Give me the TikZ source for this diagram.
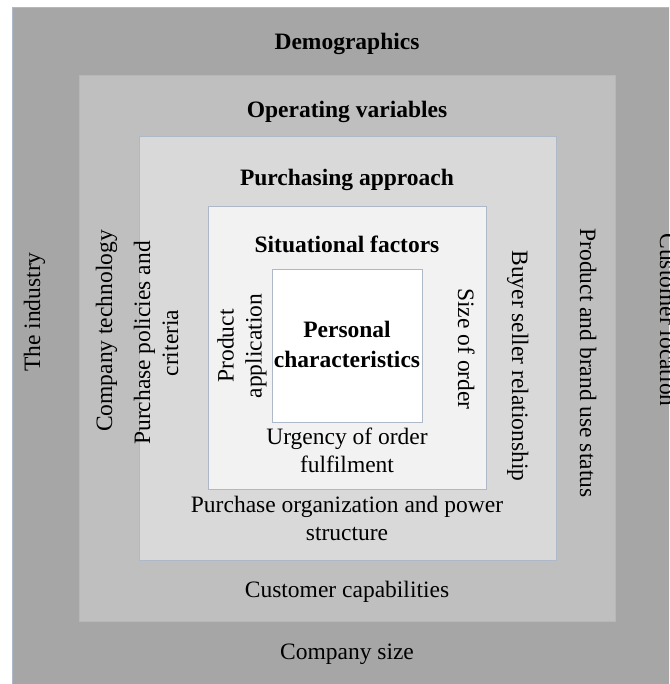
\documentclass[tikz,border=0pt]{standalone}
\usepackage{fontspec}
\setmainfont{Liberation Serif}
\definecolor{ringA}{HTML}{A6A6A6}
\definecolor{ringB}{HTML}{BFBFBF}
\definecolor{ringC}{HTML}{D9D9D9}
\definecolor{ringD}{HTML}{F2F2F2}
\definecolor{ringE}{HTML}{FFFFFF}
\definecolor{edge}{HTML}{ADB9C8}
\tikzset{
  lbl/.style={font=\fontsize{23.5}{28}\selectfont, inner sep=0pt, align=center},
  head/.style={lbl, font=\fontsize{23.5}{30}\selectfont\bfseries},
  up/.style={rotate=90},
  down/.style={rotate=-90}
}
\begin{document}
\begin{tikzpicture}[x=1pt, y=-1pt]
    \fill[white] (0, 0) rectangle (669, 684);
    \clip (0, 0) rectangle (669, 684);
    % nested rings, outside in
    \foreach \l/\t/\r/\b/\c in {12/8/740/740/ringA, 79/76/615/621/ringB,
                                139/137/556/560/ringC, 208/207/486/489/ringD,
                                272/269/422/422/ringE}
       {\filldraw[fill=\c, draw=edge, line width=1pt] (\l, \t) rectangle (\r, \b);}

    % titles
    \node[head, anchor=base] (demo) at (347, 50) {Demographics};
    \node[head, anchor=base] (oper) at (347, 118) {Operating variables};
    \node[head, anchor=base] (purch) at (347, 186) {Purchasing approach};
    \node[head, anchor=base] (situ) at (347, 253) {Situational factors};
    \node[head] (pers) at (347, 344) {Personal\\characteristics};

    % demographics ring
    \node[lbl, up, anchor=base] (indus) at (40, 312) {The industry};
    \node[lbl, down, anchor=base] (custloc) at (660, 320) {Customer location};
    \node[lbl, anchor=base] (compsize) at (347, 659) {Company size};

    % operating variables ring
    \node[lbl, up, anchor=base] (comptech) at (112, 331) {Company technology};
    \node[lbl, down, anchor=base] (brand) at (580, 363) {Product and brand use status};
    \node[lbl, anchor=base] (custcap) at (347, 597) {Customer capabilities};

    % purchasing approach ring
    \node[lbl, up] (policies) at (156, 343) {Purchase policies and\\criteria};
    \node[lbl, down, anchor=base] (buyer) at (512, 366) {Buyer seller relationship};
    \node[lbl] (porg) at (347, 518) {Purchase organization and power\\structure};

    % situational factors ring
    \node[lbl, up] (prodapp) at (242, 346) {Product\\application};
    \node[lbl, down, anchor=base] (size) at (458, 349) {Size of order};
    \node[lbl] (urgency) at (347, 450) {Urgency of order\\fulfilment};

\end{tikzpicture}
\end{document}
